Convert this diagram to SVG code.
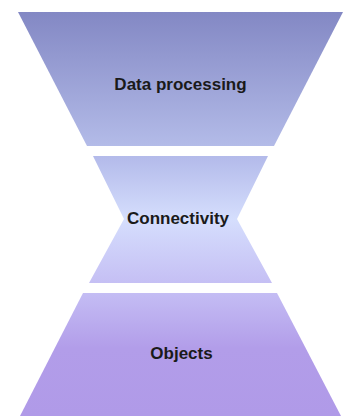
<svg xmlns="http://www.w3.org/2000/svg" width="343" height="416" viewBox="0 0 343 416">
<defs>
<linearGradient id="gTop" x1="0" y1="0" x2="0" y2="1">
<stop offset="0" stop-color="#8388c4"/>
<stop offset="1" stop-color="#b3bbe8"/>
</linearGradient>
<linearGradient id="gMid" x1="0" y1="0" x2="0" y2="1">
<stop offset="0" stop-color="#b3baea"/>
<stop offset="0.5" stop-color="#d5defd"/>
<stop offset="1" stop-color="#c5bff4"/>
</linearGradient>
<linearGradient id="gBot" x1="0" y1="0" x2="0" y2="1">
<stop offset="0" stop-color="#c4bdf4"/>
<stop offset="0.45" stop-color="#b29de9"/>
<stop offset="1" stop-color="#b09ae8"/>
</linearGradient>
<style>
.lbl{font-family:"Liberation Sans",Arial,sans-serif;font-weight:bold;font-size:17px;fill:#1a1a1a;text-anchor:middle}
</style>
</defs>
<g id="connectors"/>
<g id="data-processing">
<polygon points="18,12 343,12 274,146 87,146" fill="url(#gTop)"/>
<text class="lbl" x="180.5" y="90">Data processing</text>
</g>
<g id="connectivity">
<polygon points="93,156 268,156 237,219 272,283 89,283 124,219" fill="url(#gMid)"/>
<text class="lbl" x="178" y="224">Connectivity</text>
</g>
<g id="objects">
<polygon points="83,293 277,293 341,416 20,416" fill="url(#gBot)"/>
<text class="lbl" x="181.5" y="359">Objects</text>
</g>
</svg>
